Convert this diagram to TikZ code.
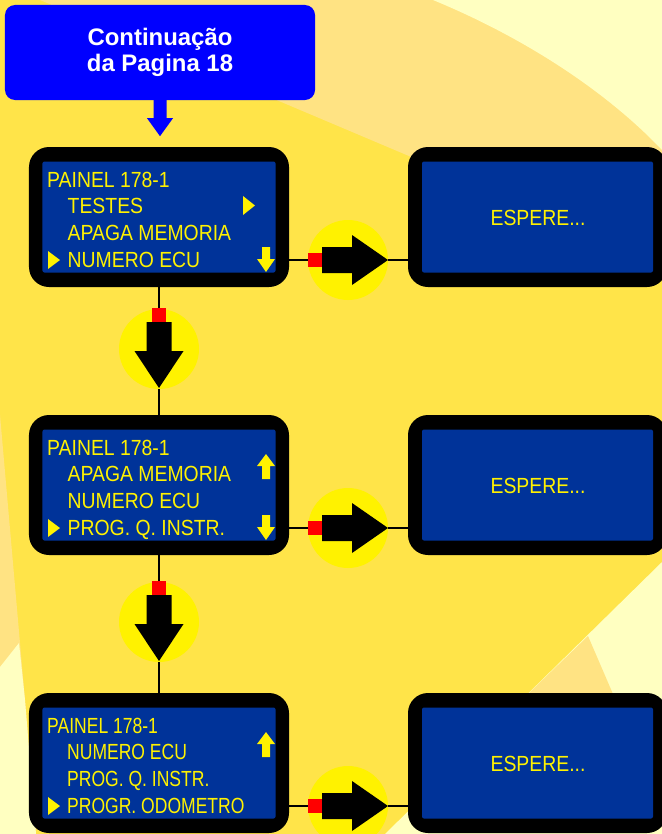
\documentclass[tikz,border=0pt]{standalone}
\usepackage{fontspec}
\usepackage{tikz}
\usetikzlibrary{calc}
\newfontfamily\lcdfont[FakeStretch=0.885]{Liberation Sans}
\newfontfamily\lcdnarrow[FakeStretch=0.80]{Liberation Sans}
\newfontfamily\hdrfont{Liberation Sans}
\definecolor{bgyellow}{HTML}{FFE449}
\definecolor{bgpale}{HTML}{FFE383}
\definecolor{bgcream}{HTML}{FFFFC1}
\definecolor{lcdblue}{HTML}{003399}
\definecolor{hdrblue}{HTML}{0000FF}

\begin{document}
\begin{tikzpicture}[x=1bp,y=-1bp,line join=bevel,
  frame/.style={fill=black,rounded corners=20bp,inner sep=0pt,minimum height=140bp},
  lcd/.style={fill=lcdblue,rounded corners=2bp,inner sep=0pt,minimum height=111bp},
  lcdtxt/.style={anchor=base west,inner sep=0pt,text=yellow,font=\lcdfont\fontsize{22}{26}\selectfont},
  lcdtxtn/.style={lcdtxt,font=\lcdnarrow\fontsize{22}{26}\selectfont},
  waittxt/.style={inner sep=0pt,text=yellow,font=\lcdfont\fontsize{22}{26}\selectfont},
  hdrtxt/.style={anchor=base,inner sep=0pt,text=white,font=\hdrfont\bfseries\fontsize{24}{26}\selectfont},
  knob/.style={circle,fill=yellow,minimum size=80bp,inner sep=0pt},
  wire/.style={draw=black,line width=1.2bp},
  glyph/.style={fill=yellow}]
\useasboundingbox (0,0) rectangle (662,834);
%% background
\fill[bgyellow] (0,0) rectangle (662,834);
\fill[bgpale] (40,0) -- (662,0) -- (662,263) -- cycle;
\fill[bgcream] (433,0) .. controls (530,40) and (610,95) .. (662,150) -- (662,0) -- cycle;
\fill[bgpale] (0,415) -- (25,700) -- (36,834) -- (0,834) -- cycle;
\fill[bgcream] (0,667) -- (19,643) -- (25,700) -- (36,834) -- (0,834) -- cycle;
\fill[bgcream] (662,562) -- (385,834) -- (662,834) -- cycle;
\fill[bgpale] (588,636) -- (470,750) -- (650,780) -- cycle;
%% header
\node (hdr) at (160,52.5) [fill=hdrblue,rounded corners=10bp,minimum width=310bp,minimum height=95bp] {};
\node (hdra) at (160,45) [hdrtxt] {Continuação};
\node (hdrb) at (160,71) [hdrtxt] {da Pagina 18};
\fill[hdrblue,shift={(hdr.south)}] (-6.5,0) -- (6.5,0) -- (6.5,18) -- (13,18) -- (0,36) -- (-13,18) -- (-6.5,18) -- cycle;
%% screens
\node (s1) at (159,217) [frame,minimum width=260bp] {};
\node (s2) at (159,485) [frame,minimum width=260bp] {};
\node (s3) at (159,763) [frame,minimum width=260bp] {};
\node (r1) at (537.5,217) [frame,minimum width=259bp] {};
\node (r2) at (537.5,485) [frame,minimum width=259bp] {};
\node (r3) at (537.5,763) [frame,minimum width=259bp] {};
\node (s1i) at (s1.center) [lcd,minimum width=233bp] {};
\node (s2i) at (s2.center) [lcd,minimum width=233bp] {};
\node (s3i) at (s3.center) [lcd,minimum width=233bp] {};
\node (r1i) at (r1.center) [lcd,minimum width=231bp] {};
\node (r2i) at (r2.center) [lcd,minimum width=231bp] {};
\node (r3i) at (r3.center) [lcd,minimum width=231bp] {};
%
\node (w1) at (538,218) [waittxt] {ESPERE...};
\node (w2) at (538,486) [waittxt] {ESPERE...};
\node (w3) at (538,764) [waittxt] {ESPERE...};
%% screen 1
\node (t1a) at (47,187) [lcdtxt] {PAINEL 178-1};
\node (t1b) at (67.5,213.7) [lcdtxt] {TESTES};
\node (t1c) at (67.5,240.4) [lcdtxt] {APAGA MEMORIA};
\node (t1d) at (67.5,267.1) [lcdtxt] {NUMERO ECU};
\fill[glyph] (243,196) -- (255,205.5) -- (243,215) -- cycle;
\fill[glyph] (48,251) -- (60,260) -- (48,269) -- cycle;
\fill[glyph] (262,247) -- (270,247) -- (270,259) -- (275,259) -- (266,272) -- (257,259) -- (262,259) -- cycle;
%% screen 2
\node (t2a) at (47,455) [lcdtxt] {PAINEL 178-1};
\node (t2b) at (67.5,481.7) [lcdtxt] {APAGA MEMORIA};
\node (t2c) at (67.5,508.4) [lcdtxt] {NUMERO ECU};
\node (t2d) at (67.5,535.1) [lcdtxt] {PROG. Q. INSTR.};
\fill[glyph] (266,454) -- (275,466) -- (270,466) -- (270,479) -- (262,479) -- (262,466) -- (257,466) -- cycle;
\fill[glyph] (48,519) -- (60,528) -- (48,537) -- cycle;
\fill[glyph] (262,515) -- (270,515) -- (270,527) -- (275,527) -- (266,540) -- (257,527) -- (262,527) -- cycle;
%% screen 3
\node (t3a) at (47,733) [lcdtxtn] {PAINEL 178-1};
\node (t3b) at (67,759.7) [lcdtxtn] {NUMERO ECU};
\node (t3c) at (67,786.4) [lcdtxtn] {PROG. Q. INSTR.};
\node (t3d) at (67,813.1) [lcdtxtn] {PROGR. ODOMETRO};
\fill[glyph] (266,732) -- (275,744) -- (270,744) -- (270,757) -- (262,757) -- (262,744) -- (257,744) -- cycle;
\fill[glyph] (48,797) -- (60,806) -- (48,815) -- cycle;
%% connectors
\node (v1) at (159,349) [knob] {};
\node (v2) at (159,622) [knob] {};
\node (h1) at (348,260) [knob] {};
\node (h2) at (348,528) [knob] {};
\node (h3) at (348,806) [knob] {};
\draw[wire] (s1.south) -- (v1.north);
\draw[wire] (v1.south) -- (s2.north);
\draw[wire] (s2.south) -- (v2.north);
\draw[wire] (v2.south) -- (s3.north);
\draw[wire] (s1.east |- h1) -- (h1.west);
\draw[wire] (h1.east) -- (r1.west |- h1);
\draw[wire] (s2.east |- h2) -- (h2.west);
\draw[wire] (h2.east) -- (r2.west |- h2);
\draw[wire] (s3.east |- h3) -- (h3.west);
\draw[wire] (h3.east) -- (r3.west |- h3);
%
\fill[red,shift={(v1.center)}] (-7,-41) rectangle (7,-27);
\fill[black,shift={(v1.center)}] (-12.5,-27) -- (12.5,-27) -- (12.5,2) -- (24.5,2) -- (0,39) -- (-24.5,2) -- (-12.5,2) -- cycle;
\fill[red,shift={(v2.center)}] (-7,-41) rectangle (7,-27);
\fill[black,shift={(v2.center)}] (-12.5,-27) -- (12.5,-27) -- (12.5,2) -- (24.5,2) -- (0,39) -- (-24.5,2) -- (-12.5,2) -- cycle;
\fill[red,shift={(h1.center)}] (-40,-7) rectangle (-26,7);
\fill[black,shift={(h1.center)}] (-26,-13) -- (4,-13) -- (4,-25) -- (40,0) -- (4,25) -- (4,13) -- (-26,13) -- cycle;
\fill[red,shift={(h2.center)}] (-40,-7) rectangle (-26,7);
\fill[black,shift={(h2.center)}] (-26,-13) -- (4,-13) -- (4,-25) -- (40,0) -- (4,25) -- (4,13) -- (-26,13) -- cycle;
\fill[red,shift={(h3.center)}] (-40,-7) rectangle (-26,7);
\fill[black,shift={(h3.center)}] (-26,-13) -- (4,-13) -- (4,-25) -- (40,0) -- (4,25) -- (4,13) -- (-26,13) -- cycle;
%
\end{tikzpicture}
\end{document}
